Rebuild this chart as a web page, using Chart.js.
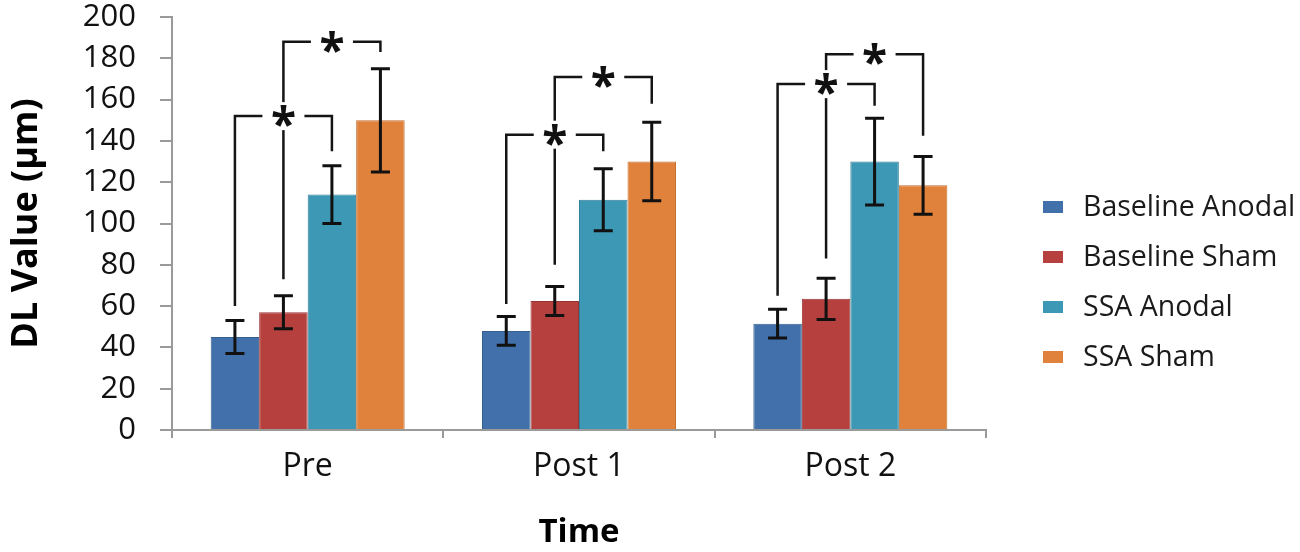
<!DOCTYPE html>
<html>
<head>
<meta charset="utf-8">
<script src="https://cdn.jsdelivr.net/npm/chart.js@4.4.1/dist/chart.umd.min.js"></script>
<style>
  html, body { margin: 0; padding: 0; background: #fff; }
  #wrap { width: 1300px; height: 552px; }
</style>
</head>
<body>
<div id="wrap"><canvas id="dlChart" width="1300" height="552"></canvas></div>
<script>
'use strict';

// categories and series
const timePoints = ['Pre', 'Post 1', 'Post 2'];
const seriesNames = ['Baseline Anodal', 'Baseline Sham', 'SSA Anodal', 'SSA Sham'];

const baselineAnodal = [45, 48, 51.5];
const baselineSham = [57, 62.5, 63.5];
const ssaAnodal = [114, 111.5, 130];
const ssaSham = [150, 130, 118.5];

// error bars (+/-)
const baselineAnodalErr = [8, 7, 7];
const baselineShamErr = [8, 7, 10];
const ssaAnodalErr = [14, 15, 21];
const ssaShamErr = [25, 19, 14];

// significance brackets: category, from series, to series, level, leg ends
const bracketCategory = [0, 0, 1, 1, 2, 2];
const bracketFrom = [0, 1, 0, 1, 0, 1];
const bracketTo = [2, 3, 2, 3, 2, 3];
const bracketLevel = [152, 188, 143, 171, 167.5, 182];
const bracketFromEnd = [60, 73, 61, 80, 65, 83];
const bracketToEnd = [135, 183, 135, 158, 157, 142.5];

const seriesValues = [baselineAnodal, baselineSham, ssaAnodal, ssaSham];
const seriesErrors = [baselineAnodalErr, baselineShamErr, ssaAnodalErr, ssaShamErr];
const fillColors = ['#4170ab', '#b5403e', '#3c98b5', '#e0823b'];
const edgeColors = ['#36608f', '#983533', '#327f98', '#c26f30'];

const FONT = "'Open Sans', 'Noto Sans', sans-serif";

const errorBarPlugin = {
  id: 'errorBars',
  afterDatasetsDraw(chart) {
    const ctx = chart.ctx;
    const y = chart.scales.y;
    ctx.save();
    ctx.strokeStyle = '#111';
    ctx.lineWidth = 3;
    seriesErrors.forEach((errs, di) => {
      const meta = chart.getDatasetMeta(di);
      meta.data.forEach((bar, i) => {
        const v = seriesValues[di][i];
        const top = y.getPixelForValue(v + errs[i]);
        const bot = y.getPixelForValue(v - errs[i]);
        const half = 9.5;
        ctx.beginPath();
        ctx.moveTo(bar.x, top); ctx.lineTo(bar.x, bot);
        ctx.moveTo(bar.x - half, top); ctx.lineTo(bar.x + half, top);
        ctx.moveTo(bar.x - half, bot); ctx.lineTo(bar.x + half, bot);
        ctx.stroke();
      });
    });
    ctx.restore();
  }
};

const bracketPlugin = {
  id: 'brackets',
  afterDatasetsDraw(chart) {
    const ctx = chart.ctx;
    const y = chart.scales.y;
    ctx.save();
    ctx.strokeStyle = '#151515';
    ctx.lineWidth = 2.5;
    const stars = [];
    bracketLevel.forEach((lvl, k) => {
      const c = bracketCategory[k];
      const xa = chart.getDatasetMeta(bracketFrom[k]).data[c].x;
      const xb = chart.getDatasetMeta(bracketTo[k]).data[c].x;
      const yl = y.getPixelForValue(lvl);
      ctx.beginPath();
      ctx.moveTo(xa, y.getPixelForValue(bracketFromEnd[k]));
      ctx.lineTo(xa, yl);
      ctx.lineTo(xb, yl);
      ctx.lineTo(xb, y.getPixelForValue(bracketToEnd[k]));
      ctx.stroke();
      stars.push([(xa + xb) / 2, yl]);
    });
    ctx.font = 'bold 46px ' + FONT;
    ctx.textAlign = 'center';
    ctx.textBaseline = 'alphabetic';
    const m = ctx.measureText('*');
    const off = (m.actualBoundingBoxAscent - m.actualBoundingBoxDescent) / 2;
    stars.forEach(([sx, sy]) => {
      ctx.fillStyle = '#fff';
      ctx.fillRect(sx - 21, sy - 14, 42, 28);
      ctx.fillStyle = '#111';
      ctx.fillText('*', sx, sy + off);
    });
    ctx.restore();
  }
};

const sideLegendPlugin = {
  id: 'sideLegend',
  afterDraw(chart) {
    const ctx = chart.ctx;
    ctx.save();
    ctx.font = '28.5px ' + FONT;
    ctx.textBaseline = 'middle';
    ctx.textAlign = 'left';
    chart.data.datasets.forEach((ds, i) => {
      const cy = 207 + i * 50;
      ctx.fillStyle = ds.backgroundColor;
      ctx.fillRect(1043, cy - 6, 20, 12);
      ctx.fillStyle = '#1a1a1a';
      ctx.fillText(ds.label, 1083, cy + 1);
    });
    ctx.restore();
  }
};

function buildDatasets() {
  return seriesNames.map((name, i) => ({
    label: name,
    data: seriesValues[i],
    backgroundColor: fillColors[i],
    borderColor: edgeColors[i],
    borderWidth: 1,
    categoryPercentage: 0.715,
    barPercentage: 1.0
  }));
}

new Chart(document.getElementById('dlChart').getContext('2d'), {
  type: 'bar',
  data: {
    labels: timePoints,
    datasets: buildDatasets()
  },
  options: {
    responsive: false,
    animation: false,
    layout: { padding: { top: 17, right: 314, left: 0, bottom: 0 } },
    plugins: {
      legend: { display: false },
      tooltip: { enabled: false }
    },
    scales: {
      x: {
        grid: { drawOnChartArea: false, drawTicks: true, tickLength: 8, color: '#9a9a9a', lineWidth: 2, offset: true },
        border: { color: '#9a9a9a', width: 2 },
        ticks: { font: { family: FONT, size: 32 }, color: '#111', padding: 10 },
        title: {
          display: true, text: 'Time', color: '#000',
          font: { family: FONT, size: 33, weight: 'bold' },
          padding: { top: 0, bottom: 0 }
        },
        afterFit(scale) { scale.height = 122; }
      },
      y: {
        min: 0, max: 200,
        grid: { drawOnChartArea: false, drawTicks: true, tickLength: 12, color: '#9a9a9a', lineWidth: 2 },
        border: { color: '#9a9a9a', width: 2 },
        ticks: { stepSize: 20, autoSkip: false, font: { family: FONT, size: 31 }, color: '#111', padding: 24 },
        title: {
          display: true, text: 'DL Value (µm)', color: '#000',
          font: { family: FONT, size: 36, weight: 'bold' },
          padding: { top: 5, bottom: 0 }
        },
        afterFit(scale) {
          scale.width = 172;
          scale.paddingTop = 0;
          scale.paddingBottom = 0;
        }
      }
    }
  },
  plugins: [errorBarPlugin, bracketPlugin, sideLegendPlugin]
});
</script>
</body>
</html>
